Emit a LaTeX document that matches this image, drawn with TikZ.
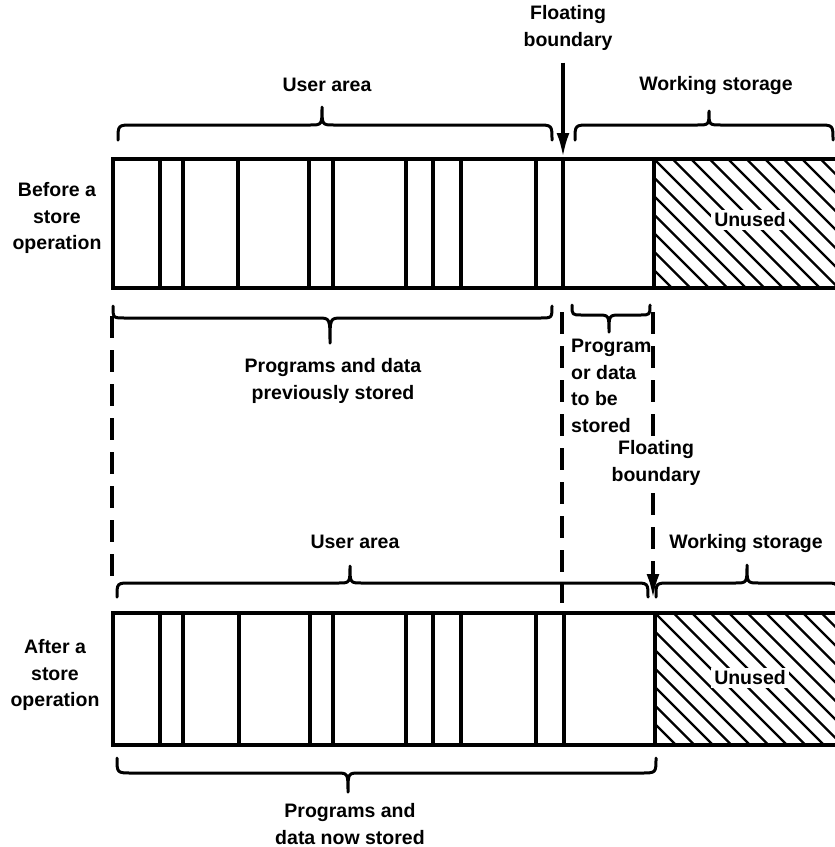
\documentclass[tikz,border=0pt]{standalone}
\usepackage{fontspec}
\setmainfont{Liberation Sans}
\usetikzlibrary{arrows.meta}
\tikzset{
  lbl/.style={font=\fontsize{19.5}{26.5}\selectfont\bfseries, inner sep=0pt, align=center},
  barline/.style={line width=3.6pt},
  cell/.style={line width=3.3pt},
  bracestyle/.style={line width=3pt, line cap=round, line join=round},
  hatchline/.style={line width=2.4pt},
  dashline/.style={line width=3.5pt, dash pattern=on 22pt off 12pt},
  tipstyle/.style={-{Latex[length=24pt,width=13pt]}},
  unusedlbl/.style={lbl, fill=white, inner sep=3pt}
}
\newcommand\drawbrace[6]{%
  \pgfmathsetmacro\bh{abs(#5-#4)}%
  \draw[bracestyle] (#1,#5) .. controls (#1,#4) .. ({#1+\bh},#4)
    -- ({#3-12},#4) .. controls (#3,#4) .. (#3,#6)
    .. controls (#3,#4) .. ({#3+12},#4)
    -- ({#2-\bh},#4) .. controls (#2,#4) .. (#2,#5);}
\begin{document}
\begin{tikzpicture}[x=1pt,y=-1pt]
\useasboundingbox (0,0) rectangle (835,847);
\fill[white] (0,0) rectangle (835,847);

% ---------- top bar ----------
\begin{scope}
  \clip (654,159) rectangle (835,288);
  \foreach \k in {-8,...,11}
    \draw[hatchline] ({654+\k*18.5},159) -- ({654+\k*18.5+129},288);
\end{scope}
\draw[barline] (836,159) -- (113,159) -- (113,288) -- (836,288);
\foreach \x in {160,183,238,309,333,406,433,461,536,563,654}
  \draw[cell] (\x,159) -- (\x,288);
\node[unusedlbl] (un1) at (750,220) {Unused};

% ---------- bottom bar ----------
\begin{scope}
  \clip (655,613) rectangle (835,745);
  \foreach \k in {-8,...,11}
    \draw[hatchline] ({655+\k*18.5},613) -- ({655+\k*18.5+132},745);
\end{scope}
\draw[barline] (836,613) -- (113,613) -- (113,745) -- (836,745);
\foreach \x in {160,183,239,310,333,406,433,461,536,564,655}
  \draw[cell] (\x,613) -- (\x,745);
\node[unusedlbl] (un2) at (750,678) {Unused};

% ---------- labels ----------
\node[lbl] (fb1) at (568,28) {Floating\\boundary};
\node[lbl] (ua1) at (327,85) {User area};
\node[lbl] (ws1) at (716,85) {Working storage};
\node[lbl] (bef) at (57,218) {Before a\\store\\operation};
\node[lbl] (prev) at (333,381) {Programs and data\\previously stored};
\node[lbl, align=left, anchor=west] (tbs) at (571,386) {Program\\or data\\to be\\stored};
\node[lbl] (fb2) at (656,463) {Floating\\boundary};
\node[lbl] (ua2) at (355,542) {User area};
\node[lbl] (ws2) at (746,543) {Working storage};
\node[lbl] (aft) at (55,675) {After a\\store\\operation};
\node[lbl] (now) at (350,824) {Programs and\\data now stored};

% ---------- braces ----------
\drawbrace{118}{552}{322}{125}{140}{107}
\drawbrace{575}{833}{709}{125}{140}{111}
\drawbrace{113}{552}{330}{318}{306}{343}
\drawbrace{572}{650}{609}{315}{305}{332}
\drawbrace{117}{648}{350}{583}{597}{566}
\drawbrace{656}{838}{747}{583}{597}{565}
\drawbrace{117}{656}{348}{773}{758}{792}

% ---------- arrows and dashed guides ----------
\coordinate (b1) at (563,157);
\draw[line width=3.5pt, tipstyle] (fb1.south -| b1) ++(0,12) -- (b1);

\coordinate (dl1) at (112,316);
\coordinate (dl2) at (112,578);
\draw[dashline] (dl1) -- (dl2);

\coordinate (dm1) at (562,312);
\coordinate (dm2) at (562,603);
\draw[dashline] (dm1) -- (dm2);

\coordinate (dr1) at (653,312);
\coordinate (dr2) at (653,437);
\draw[dashline] (dr1) -- (dr2);
\coordinate (b2) at (653,598);
\draw[line width=3.5pt, dash pattern=on 22pt off 12pt, tipstyle] (653,493) -- (b2);
\end{tikzpicture}
\end{document}
